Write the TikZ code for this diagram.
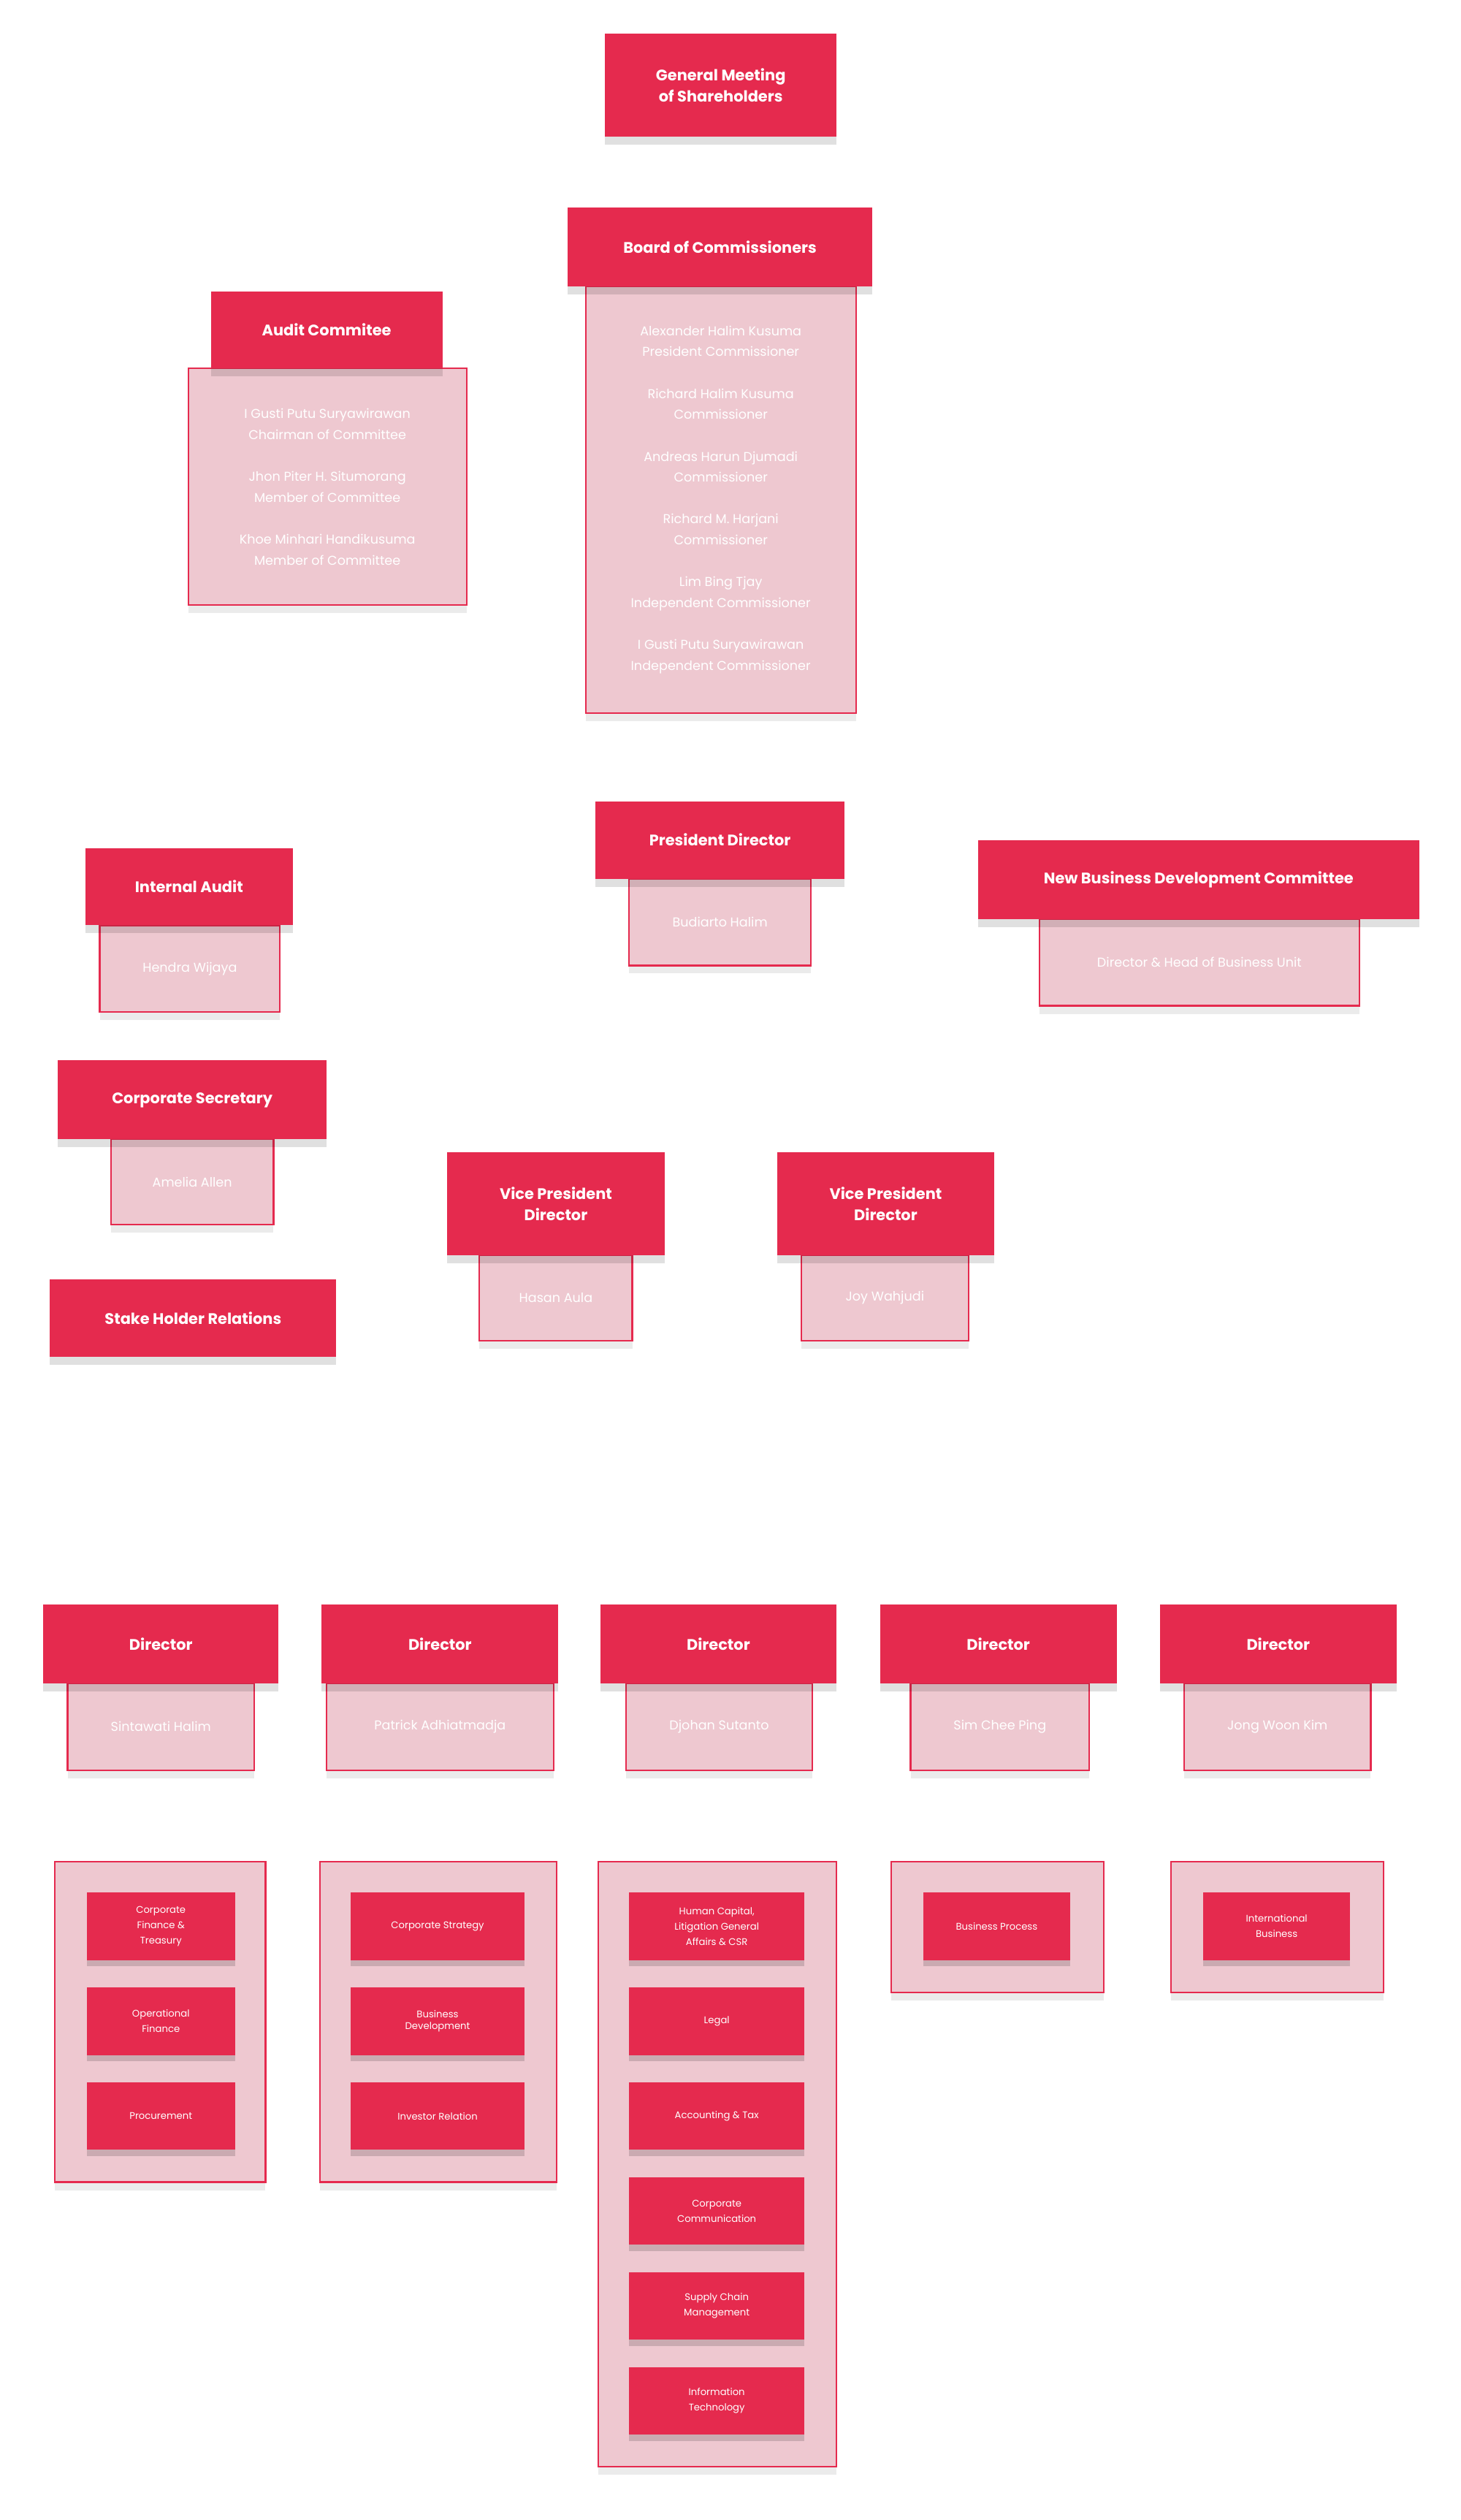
\documentclass[tikz,border=0pt]{standalone}
\usepackage{fontspec}
\setmainfont{Poppins}
\usetikzlibrary{shadows,backgrounds}
\definecolor{cred}{HTML}{E52A4E}
\definecolor{cpink}{HTML}{EEC8D0}
\newcommand\bx[7]{\node[#6,minimum width={(#4-#2)*1pt},minimum height={(#5-#3)*1pt}] (#1) at ({(#2+#4)/2},{(#3+#5)/2}) {#7};}
\begin{document}
\begin{tikzpicture}[x=1pt,y=-1pt,
 hd/.style={fill=cred,draw=none,text=white,font=\fontsize{9.5}{13}\selectfont\bfseries,align=center,inner sep=0,drop shadow={shadow xshift=0pt,shadow yshift=-5pt,opacity=0.12,fill=black}},
 bd/.style={fill=cpink,draw=cred,line width=1pt,text=white,font=\fontsize{8}{13}\selectfont,align=center,inner sep=0,drop shadow={shadow xshift=0pt,shadow yshift=-5pt,opacity=0.08,fill=black}},
 it/.style={fill=cred,draw=none,text=white,font=\fontsize{6}{9.5}\selectfont,align=center,inner sep=0,drop shadow={shadow xshift=0pt,shadow yshift=-4pt,opacity=0.15,fill=black}},
 ln/.style={draw=cred,line width=4.5pt}]
\useasboundingbox[fill=white] (0,0) rectangle (908,1566);
% top
\bx{gms}{376}{21}{520}{85}{hd}{General Meeting\\of Shareholders}
\bx{bocb}{364}{178}{532}{443}{bd}{Alexander Halim Kusuma\\President Commissioner\\[13pt]Richard Halim Kusuma\\Commissioner\\[13pt]Andreas Harun Djumadi\\Commissioner\\[13pt]Richard M. Harjani\\Commissioner\\[13pt]Lim Bing Tjay\\Independent Commissioner\\[13pt]I Gusti Putu Suryawirawan\\Independent Commissioner}
\bx{boc}{353}{129}{542}{178}{hd}{Board of Commissioners}
\bx{acb}{117}{229}{290}{376}{bd}{I Gusti Putu Suryawirawan\\Chairman of Committee\\[13pt]Jhon Piter H. Situmorang\\Member of Committee\\[13pt]Khoe Minhari Handikusuma\\Member of Committee}
\bx{ac}{131}{181}{275}{229}{hd}{Audit Commitee}
% president level
\bx{pdb}{391}{546}{504}{600}{bd}{Budiarto Halim}
\bx{pd}{370}{498}{525}{546}{hd}{President Director}
\bx{iab}{62}{575}{174}{629}{bd}{Hendra Wijaya}
\bx{ia}{53}{527}{182}{575}{hd}{Internal Audit}
\bx{nbb}{646}{571}{845}{625}{bd}{Director \& Head of Business Unit}
\bx{nb}{608}{522}{882}{571}{hd}{New Business Development Committee}
% VP level
\bx{csb}{69}{708}{170}{761}{bd}{Amelia Allen}
\bx{cs}{36}{659}{203}{708}{hd}{Corporate Secretary}
\bx{shr}{31}{795}{209}{843}{hd}{Stake Holder Relations}
\bx{vp1b}{298}{780}{393}{833}{bd}{Hasan Aula}
\bx{vp1}{278}{716}{413}{780}{hd}{Vice President\\Director}
\bx{vp2b}{498}{780}{602}{833}{bd}{Joy Wahjudi}
\bx{vp2}{483}{716}{618}{780}{hd}{Vice President\\Director}
% directors
\bx{d1b}{42}{1046}{158}{1100}{bd}{Sintawati Halim}
\bx{d1}{27}{997}{173}{1046}{hd}{Director}
\bx{d2b}{203}{1046}{344}{1100}{bd}{Patrick Adhiatmadja}
\bx{d2}{200}{997}{347}{1046}{hd}{Director}
\bx{d3b}{389}{1046}{505}{1100}{bd}{Djohan Sutanto}
\bx{d3}{373}{997}{520}{1046}{hd}{Director}
\bx{d4b}{566}{1046}{677}{1100}{bd}{Sim Chee Ping}
\bx{d4}{547}{997}{694}{1046}{hd}{Director}
\bx{d5b}{736}{1046}{852}{1100}{bd}{Jong Woon Kim}
\bx{d5}{721}{997}{868}{1046}{hd}{Director}
% groups
\bx{g1}{34}{1157}{165}{1356}{bd}{}
\bx{g2}{199}{1157}{346}{1356}{bd}{}
\bx{g3}{372}{1157}{520}{1533}{bd}{}
\bx{g4}{554}{1157}{686}{1238}{bd}{}
\bx{g5}{728}{1157}{860}{1238}{bd}{}
\bx{a1}{54}{1176}{146}{1218}{it}{Corporate\\Finance \&\\Treasury}
\bx{a2}{54}{1235}{146}{1277}{it}{Operational\\Finance}
\bx{a3}{54}{1294}{146}{1336}{it}{Procurement}
\bx{b1}{218}{1176}{326}{1218}{it}{Corporate Strategy}
\bx{b2}{218}{1235}{326}{1277}{it}{Business\\[-2pt]Development}
\bx{b3}{218}{1294}{326}{1336}{it}{Investor Relation}
\bx{c1}{391}{1176}{500}{1218}{it}{Human Capital,\\Litigation General\\Affairs \& CSR}
\bx{c2}{391}{1235}{500}{1277}{it}{Legal}
\bx{c3}{391}{1294}{500}{1336}{it}{Accounting \& Tax}
\bx{c4}{391}{1353}{500}{1395}{it}{Corporate\\Communication}
\bx{c5}{391}{1412}{500}{1454}{it}{Supply Chain\\Management}
\bx{c6}{391}{1471}{500}{1513}{it}{Information\\Technology}
\bx{e1}{574}{1176}{665}{1218}{it}{Business Process}
\bx{f1}{748}{1176}{839}{1218}{it}{International\\Business}
% connectors
\begin{scope}[on background layer]
\draw[ln] (gms.south) -- (boc.north);
\draw[ln] (acb.east |- 0,283) -- (bocb.west |- 0,283);
\draw[ln] (bocb.south) -- (pd.north);
\draw[ln] (ia.east) -- (240,551) .. controls (280,551) and (282,520) .. (322,520) -- (pd.west |- 0,520);
\draw[ln] (pd.east |- 0,520) -- (552,520) .. controls (570,520) and (568,547) .. (590,547) -- (nb.west |- 0,547);
\draw[ln,rounded corners=16] (pdb.south) -- (448,622) to[out=-90,in=0] (428,648) -- (345,648) -- (vp1.north -| 345,0);
\draw[ln,rounded corners=16] (pdb.south) -- (448,622) to[out=-90,in=180] (468,648) -- (550,648) -- (vp2.north -| 550,0);
\draw[ln,rounded corners=16] (cs.east |- 0,684) -- (232,684) -- (232,745) -- (vp1.west |- 0,745);
\draw[ln,rounded corners=16] (shr.east |- 0,818) -- (232,818) -- (232,747) -- (vp1.west |- 0,747);
\draw[ln,rounded corners=18] (vp1.west |- 258,747) -- (258,747) -- (258,925) -- (360,925) -- (360,1128) -- (448,1128) -- (g3.north -| 448,0);
\draw[ln,rounded corners=18] (vp2.east |- 0,748) -- (710,748) -- (710,1128) -- (795,1128) -- (g5.north -| 795,0);
\draw[ln,rounded corners=22] (vp1b.south -| 345,0) -- (345,892) -- (425,892) to[out=0,in=90] (448,915) -- (d3.north -| 448,0);
\draw[ln,rounded corners=22] (vp2b.south -| 550,0) -- (550,892) -- (471,892) to[out=180,in=90] (448,915);
\draw[ln,rounded corners=14] (d1.north -| 100,0) -- (100,960) -- (795,960) -- (d5.north -| 795,0);
\draw[ln,rounded corners=14] (d2.north -| 273,0) -- (273,960);
\draw[ln,rounded corners=14] (d4.north -| 620,0) -- (620,960);
\draw[ln] (d1b.south -| 100,0) -- (g1.north -| 100,0);
\draw[ln] (d2b.south -| 273,0) -- (g2.north -| 273,0);
\draw[ln] (d4b.south -| 620,0) -- (g4.north -| 620,0);
\end{scope}
\end{tikzpicture}
\end{document}
